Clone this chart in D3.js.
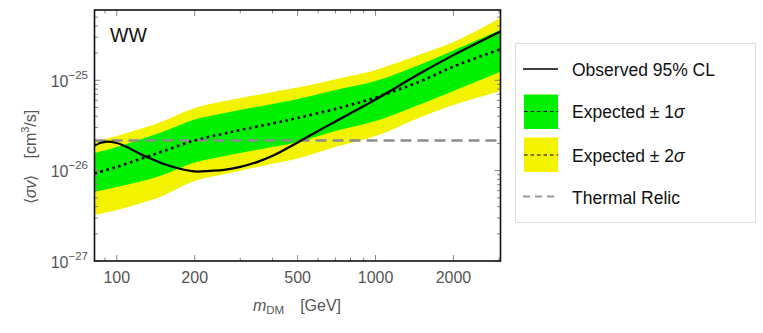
<!DOCTYPE html>
<html>
<head>
<meta charset="utf-8">
<script src="https://cdn.jsdelivr.net/npm/d3@7"></script>
<style>
body{margin:0;background:#fff;}
svg{font-family:"Liberation Sans",Arial,sans-serif;}
</style>
</head>
<body>
<svg id="c" width="763" height="333"></svg>
<script>
// ---------- data ----------
const obsMass = [82, 86, 92, 100, 110, 120, 135, 150, 175, 200, 230, 260, 300, 350, 400, 450, 500, 600, 700, 1000, 1500, 2000, 3040];
const observed = [1.90e-26, 2.02e-26, 2.10e-26, 2.02e-26, 1.81e-26, 1.59e-26, 1.36e-26, 1.20e-26, 1.05e-26, 9.8e-27, 9.95e-27, 1.02e-26, 1.10e-26, 1.25e-26, 1.46e-26, 1.74e-26, 2.05e-26, 2.75e-26, 3.50e-26, 6.14e-26, 1.21e-25, 1.90e-25, 3.47e-25];

const bandMass = [82, 100, 130, 150, 200, 250, 300, 400, 500, 700, 1000, 1500, 2000, 3040];
const expected = [9.31e-27, 1.10e-26, 1.42e-26, 1.63e-26, 2.16e-26, 2.51e-26, 2.82e-26, 3.33e-26, 3.83e-26, 4.82e-26, 6.45e-26, 9.82e-26, 1.42e-25, 2.21e-25];
const sig1Hi = [1.57e-26, 1.83e-26, 2.33e-26, 2.68e-26, 3.68e-26, 4.24e-26, 4.69e-26, 5.47e-26, 6.21e-26, 7.81e-26, 9.82e-26, 1.51e-25, 2.14e-25, 3.60e-25];
const sig1Lo = [5.86e-27, 6.61e-27, 7.89e-27, 8.95e-27, 1.23e-26, 1.42e-26, 1.57e-26, 1.83e-26, 2.08e-26, 2.75e-26, 3.55e-26, 5.47e-26, 7.62e-26, 1.24e-25];
const sig2Hi = [2.10e-26, 2.42e-26, 3.04e-26, 3.50e-26, 4.94e-26, 5.75e-26, 6.37e-26, 7.42e-26, 8.32e-26, 1.03e-25, 1.30e-25, 1.95e-25, 2.65e-25, 4.89e-25];
const sig2Lo = [3.24e-27, 3.67e-27, 4.56e-27, 5.25e-27, 7.69e-27, 8.95e-27, 1.00e-26, 1.19e-26, 1.36e-26, 1.83e-26, 2.42e-26, 3.93e-26, 5.33e-26, 7.62e-26];

const thermalRelic = 2.15e-26;

const xTickLabels = [100, 200, 500, 1000, 2000];
const xMinorTicks = [90, 300, 400, 600, 700, 800, 900, 3000];
const yTickExps = [-25, -26, -27];

const legendItems = ["Observed 95% CL", "Expected \u00b1 1", "Expected \u00b1 2", "Thermal Relic"];

// ---------- layout ----------
const L = 94.5, R = 500.5, T = 10, B = 261;
const svg = d3.select("#c");
const x = d3.scaleLog().domain([82, 3040]).range([L, R]);
const y = d3.scaleLog().domain([1e-27, 6e-25]).range([B, T]);

svg.append("defs").append("clipPath").attr("id", "clip")
  .append("rect").attr("x", L).attr("y", T).attr("width", R - L).attr("height", B - T);

const g = svg.append("g").attr("clip-path", "url(#clip)");
const curve = d3.curveCatmullRom.alpha(0.5);

const area = (lo, hi) => d3.area()
  .x((d, i) => x(bandMass[i]))
  .y0((d, i) => y(lo[i]))
  .y1((d, i) => y(hi[i]))
  .curve(curve)(bandMass);

g.append("path").attr("d", area(sig2Lo, sig2Hi)).attr("fill", "#f3f300");
g.append("path").attr("d", area(sig1Lo, sig1Hi)).attr("fill", "#00f000");

// thermal relic
g.append("line").attr("x1", L).attr("x2", R)
  .attr("y1", y(thermalRelic)).attr("y2", y(thermalRelic))
  .attr("stroke", "#8c8c8c").attr("stroke-width", 2.5).attr("stroke-dasharray", "11,6");

// expected
g.append("path")
  .attr("d", d3.line().x((d, i) => x(bandMass[i])).y(d => y(d)).curve(curve)(expected))
  .attr("fill", "none").attr("stroke", "#000").attr("stroke-width", 2.6)
  .attr("stroke-dasharray", "2.6,3.6");

// observed
g.append("path")
  .attr("d", d3.line().x((d, i) => x(obsMass[i])).y(d => y(d)).curve(curve)(observed))
  .attr("fill", "none").attr("stroke", "#000").attr("stroke-width", 2.2);

// ---------- ticks ----------
const tk = svg.append("g").attr("stroke", "#888").attr("stroke-width", 1);
xTickLabels.forEach(v => {
  tk.append("line").attr("x1", x(v)).attr("x2", x(v)).attr("y1", B).attr("y2", B - 6);
  tk.append("line").attr("x1", x(v)).attr("x2", x(v)).attr("y1", T).attr("y2", T + 6);
});
xMinorTicks.forEach(v => {
  tk.append("line").attr("x1", x(v)).attr("x2", x(v)).attr("y1", B).attr("y2", B - 3.5);
  tk.append("line").attr("x1", x(v)).attr("x2", x(v)).attr("y1", T).attr("y2", T + 3.5);
});
for (let e = -27; e <= -25; e++) {
  for (let m = 1; m <= 9; m++) {
    const v = m * Math.pow(10, e);
    if (v < 1e-27 * 0.999 || v > 6e-25) continue;
    const len = m === 1 ? 6 : 3.5;
    tk.append("line").attr("x1", L).attr("x2", L + len).attr("y1", y(v)).attr("y2", y(v));
    tk.append("line").attr("x1", R).attr("x2", R - len).attr("y1", y(v)).attr("y2", y(v));
  }
}

// frame
svg.append("rect").attr("x", L).attr("y", T).attr("width", R - L).attr("height", B - T)
  .attr("fill", "none").attr("stroke", "#111").attr("stroke-width", 1.6);

// tick labels
xTickLabels.forEach(v => {
  svg.append("text").attr("x", x(v)).attr("y", 283).attr("text-anchor", "middle")
    .attr("font-size", 16).attr("fill", "#555").text(v);
});
yTickExps.forEach(e => {
  const t = svg.append("text").attr("x", 88).attr("y", y(Math.pow(10, e)) + 6.5)
    .attr("text-anchor", "end").attr("font-size", 16).attr("fill", "#555");
  t.append("tspan").text("10");
  t.append("tspan").attr("dy", -8).attr("font-size", 11.5).text("\u2212" + (-e));
});

// axis titles
const xt = svg.append("text").attr("x", 297).attr("y", 311).attr("text-anchor", "middle")
  .attr("font-size", 16).attr("fill", "#555");
xt.append("tspan").attr("font-style", "italic").text("m");
xt.append("tspan").attr("font-size", 11.5).attr("dy", 3).text("DM");
xt.append("tspan").attr("dy", -3).text("\u2003[GeV]");

const yt = svg.append("text").attr("transform", "translate(36,157) rotate(-90)")
  .attr("text-anchor", "middle").attr("font-size", 16).attr("fill", "#555");
yt.append("tspan").text("\u27e8");
yt.append("tspan").attr("font-style", "italic").text("\u03c3v");
yt.append("tspan").text("\u27e9\u2003[cm");
yt.append("tspan").attr("font-size", 11).attr("dy", -7).text("3");
yt.append("tspan").attr("dy", 7).text("/s]");

// panel label
svg.append("text").attr("x", 110).attr("y", 42).attr("font-size", 19.5).attr("fill", "#111").text("WW");

// ---------- legend ----------
const lg = svg.append("g");
lg.append("rect").attr("x", 515.5).attr("y", 43.5).attr("width", 240).attr("height", 179)
  .attr("fill", "#fff").attr("stroke", "#ddd").attr("stroke-width", 1);
const rowY = [69, 111.5, 155, 196.5];
const baseY = [75.5, 118, 161.5, 203.5];
const tx = 572;
// observed
lg.append("line").attr("x1", 523).attr("x2", 558).attr("y1", rowY[0]).attr("y2", rowY[0])
  .attr("stroke", "#000").attr("stroke-width", 1.6);
// 1 sigma
lg.append("rect").attr("x", 524).attr("y", 94.5).attr("width", 34).attr("height", 34.5).attr("fill", "#00f000");
lg.append("line").attr("x1", 524).attr("x2", 558).attr("y1", rowY[1]).attr("y2", rowY[1])
  .attr("stroke", "#000").attr("stroke-width", 1.2).attr("stroke-dasharray", "3.5,3");
// 2 sigma
lg.append("rect").attr("x", 524).attr("y", 137.5).attr("width", 34).attr("height", 34.5).attr("fill", "#f3f300");
lg.append("line").attr("x1", 524).attr("x2", 558).attr("y1", rowY[2]).attr("y2", rowY[2])
  .attr("stroke", "#000").attr("stroke-width", 1.2).attr("stroke-dasharray", "3.5,3");
// thermal
lg.append("line").attr("x1", 523).attr("x2", 558).attr("y1", rowY[3]).attr("y2", rowY[3])
  .attr("stroke", "#999").attr("stroke-width", 2).attr("stroke-dasharray", "7,5");

legendItems.forEach((s, i) => {
  const t = lg.append("text").attr("x", tx).attr("y", baseY[i])
    .attr("font-size", 17.5).attr("fill", "#111");
  t.append("tspan").text(s);
  if (i === 1 || i === 2) t.append("tspan").attr("font-style", "italic").text("\u03c3");
});
</script>
</body>
</html>
